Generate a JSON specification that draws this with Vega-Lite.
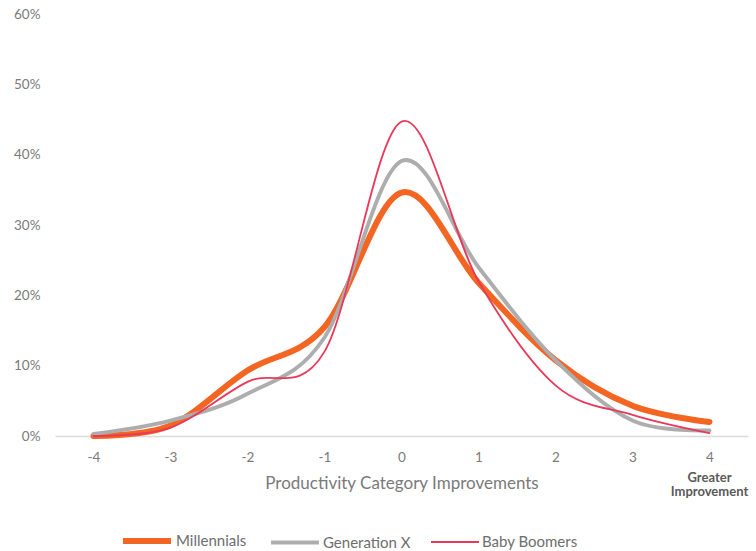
{
  "$schema": "https://vega.github.io/schema/vega-lite/v6.json",
  "autosize": "none",
  "width": 693,
  "height": 422,
  "padding": {"left": 55, "top": 14, "right": 8, "bottom": 115},
  "background": "white",
  "config": {
    "view": {"stroke": null},
    "font": "Lato",
    "axis": {"labelFont": "Lato", "titleFont": "Lato", "labelColor": "#7a7a7a", "titleColor": "#7a7a7a", "labelFontSize": 13.5, "titleFontSize": 17, "titleFontWeight": "normal"},
    "legend": {"labelFont": "Lato", "labelFontSize": 15, "labelColor": "#6e6e6e"}
  },
  "datasets": {
    "curves": [
      {"x": -4, "gen": "Millennials", "v": 0.0},
      {"x": -3, "gen": "Millennials", "v": 1.5},
      {"x": -2, "gen": "Millennials", "v": 9.3},
      {"x": -1, "gen": "Millennials", "v": 15.5},
      {"x": 0, "gen": "Millennials", "v": 34.6},
      {"x": 1, "gen": "Millennials", "v": 21.8},
      {"x": 2, "gen": "Millennials", "v": 10.8},
      {"x": 3, "gen": "Millennials", "v": 4.3},
      {"x": 4, "gen": "Millennials", "v": 2.0},
      {"x": -4, "gen": "Generation X", "v": 0.3},
      {"x": -3, "gen": "Generation X", "v": 2.2},
      {"x": -2, "gen": "Generation X", "v": 6.0},
      {"x": -1, "gen": "Generation X", "v": 14.0},
      {"x": 0, "gen": "Generation X", "v": 39.1},
      {"x": 1, "gen": "Generation X", "v": 24.0},
      {"x": 2, "gen": "Generation X", "v": 10.8},
      {"x": 3, "gen": "Generation X", "v": 2.2},
      {"x": 4, "gen": "Generation X", "v": 0.8},
      {"x": -4, "gen": "Baby Boomers", "v": 0.0},
      {"x": -3, "gen": "Baby Boomers", "v": 1.2},
      {"x": -2, "gen": "Baby Boomers", "v": 7.7},
      {"x": -1, "gen": "Baby Boomers", "v": 12.0},
      {"x": 0, "gen": "Baby Boomers", "v": 44.7},
      {"x": 1, "gen": "Baby Boomers", "v": 22.0},
      {"x": 2, "gen": "Baby Boomers", "v": 7.2},
      {"x": 3, "gen": "Baby Boomers", "v": 3.0},
      {"x": 4, "gen": "Baby Boomers", "v": 0.4}
    ],
    "note": [
      {"x": 4, "v": -6.0, "label": ["Greater", "Improvement"]}
    ]
  },
  "layer": [
    {
      "data": {"name": "curves"},
      "mark": {"type": "line", "interpolate": "cardinal", "strokeCap": "round"},
      "encoding": {
        "x": {
          "field": "x", "type": "quantitative",
          "scale": {"domain": [-4.5, 4.5], "nice": false},
          "axis": {
            "values": [-4, -3, -2, -1, 0, 1, 2, 3, 4],
            "labelExpr": "'' + datum.value",
            "title": "Productivity Category Improvements",
            "grid": false, "ticks": false,
            "domainColor": "#d9d9d9", "domainWidth": 1.5,
            "labelPadding": 14, "titlePadding": 12
          }
        },
        "y": {
          "field": "v", "type": "quantitative",
          "scale": {"domain": [0, 60], "nice": false},
          "axis": {
            "values": [0, 10, 20, 30, 40, 50, 60],
            "labelExpr": "datum.value + '%'",
            "title": null, "grid": false, "ticks": false, "domain": false,
            "labelPadding": 15
          }
        },
        "color": {
          "field": "gen", "type": "nominal",
          "scale": {"domain": ["Millennials", "Generation X", "Baby Boomers"], "range": ["#f26522", "#adadad", "#e8395a"]},
          "legend": {
            "title": null, "orient": "none", "direction": "horizontal",
            "legendX": 65, "legendY": 500,
            "symbolType": "stroke", "symbolSize": 2300,
            "columnPadding": 16, "labelOffset": 2
          }
        },
        "strokeWidth": {
          "field": "gen", "type": "nominal",
          "scale": {"domain": ["Millennials", "Generation X", "Baby Boomers"], "range": [6, 1.8, 2]},
          "legend": null
        },
        "order": {"field": "x", "type": "quantitative"}
      }
    },
    {
      "data": {"name": "note"},
      "mark": {"type": "text", "font": "Lato", "fontWeight": "bold", "fontSize": 13, "color": "#595959", "baseline": "middle", "align": "center", "lineHeight": 14},
      "encoding": {
        "x": {"field": "x", "type": "quantitative"},
        "y": {"field": "v", "type": "quantitative"},
        "text": {"field": "label"}
      }
    }
  ]
}
